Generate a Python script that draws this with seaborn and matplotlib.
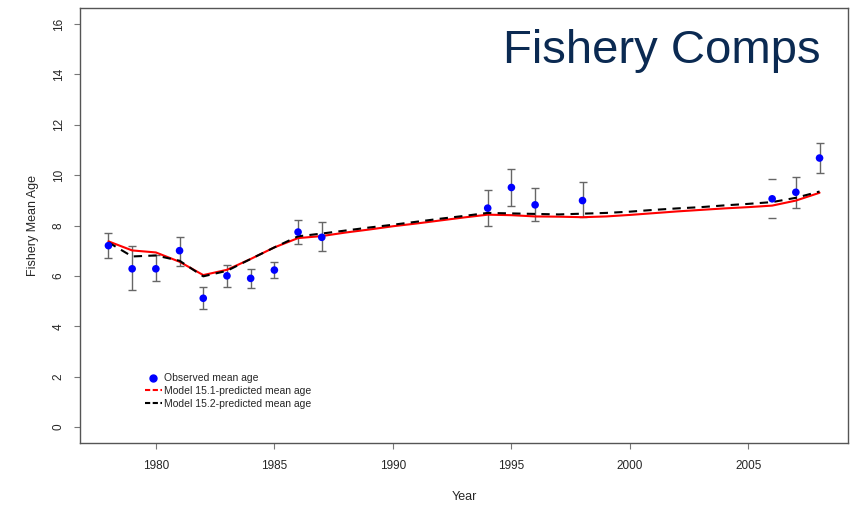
import numpy as np
import pandas as pd
import matplotlib
matplotlib.use("Agg")
import matplotlib.pyplot as plt
import seaborn as sns
from matplotlib.lines import Line2D

# ---- data ----
obs_years = [1978, 1979, 1980, 1981, 1982, 1983, 1984, 1985, 1986, 1987,
             1994, 1995, 1996, 1998, 2006, 2007, 2008]
obs_mean = [7.20, 6.28, 6.28, 7.00, 5.11, 6.00, 5.90, 6.23, 7.74, 7.53,
            8.69, 9.51, 8.82, 8.99, 9.06, 9.32, 10.68]
obs_low = [6.71, 5.42, 5.78, 6.40, 4.68, 5.55, 5.50, 5.91, 7.27, 6.97,
           7.97, 8.76, 8.18, 8.33, 8.30, 8.71, 10.09]
obs_high = [7.70, 7.17, 6.81, 7.56, 5.55, 6.42, 6.28, 6.56, 8.22, 8.14,
            9.40, 10.24, 9.47, 9.74, 9.86, 9.92, 11.26]

model_years = list(range(1978, 2009))
model_151 = [7.37, 7.01, 6.93, 6.56, 6.03, 6.24, 6.67, 7.13, 7.50, 7.58,
             7.72, 7.84, 7.97, 8.08, 8.20, 8.32, 8.43, 8.41, 8.36, 8.35,
             8.33, 8.36, 8.42, 8.49, 8.56, 8.62, 8.68, 8.73, 8.79, 8.99, 9.30]
model_152 = [7.33, 6.77, 6.81, 6.60, 5.98, 6.20, 6.67, 7.13, 7.57, 7.68,
             7.80, 7.92, 8.03, 8.15, 8.27, 8.38, 8.50, 8.48, 8.46, 8.44,
             8.47, 8.50, 8.55, 8.62, 8.68, 8.73, 8.80, 8.86, 8.93, 9.10, 9.35]

x_ticks = [1980, 1985, 1990, 1995, 2000, 2005]
y_ticks = [0, 2, 4, 6, 8, 10, 12, 14, 16]

title_text = "Fishery Comps"
x_label = "Year"
y_label = "Fishery Mean Age"
legend_labels = ["Observed mean age", "Model 15.1-predicted mean age",
                 "Model 15.2-predicted mean age"]

# ---- plot ----
sns.set_style("white")
plt.rcParams["font.family"] = ["Liberation Sans", "DejaVu Sans"]

fig = plt.figure(figsize=(8.57, 5.07), dpi=100)
W, H = 857, 507
ax = fig.add_axes([80 / W, (H - 443) / H, (848 - 80) / W, (443 - 8) / H])

models = pd.DataFrame({"Year": model_years, "m151": model_151, "m152": model_152})
obs = pd.DataFrame({"Year": obs_years, "mean": obs_mean,
                    "low": obs_low, "high": obs_high})

# error bars
yerr = np.array([obs["mean"] - obs["low"], obs["high"] - obs["mean"]])
eb = ax.errorbar(obs["Year"], obs["mean"], yerr=yerr, fmt="none",
                 ecolor="#666666", elinewidth=1.0, capsize=3.2, capthick=1.0,
                 zorder=2)
# the 2006 bar shows only its caps in the reference
stem_colors = ["#666666"] * len(obs_years)
stem_colors[obs_years.index(2006)] = (1, 1, 1, 0)
eb[2][0].set_color(stem_colors)

sns.lineplot(data=models, x="Year", y="m151", ax=ax, color="red",
             linewidth=1.5, zorder=3, legend=False)
sns.lineplot(data=models, x="Year", y="m152", ax=ax, color="black",
             linewidth=1.5, linestyle=(0, (4, 3)), zorder=4, legend=False)
sns.scatterplot(data=obs, x="Year", y="mean", ax=ax, color="blue",
                s=30, edgecolor="none", zorder=5, legend=False)

ax.set_xlim(1976.8, 2009.2)
ax.set_ylim(-0.64, 16.64)
ax.set_xticks(x_ticks)
ax.set_yticks(y_ticks)
ax.set_xticklabels([str(t) for t in x_ticks], fontsize=8.5)
ax.set_yticklabels([str(t) for t in y_ticks], fontsize=8.5, rotation=90, va="center")
ax.tick_params(axis="both", direction="out", length=4, width=0.8,
               color="#777777", bottom=True, left=True)
ax.tick_params(axis="x", pad=8)
ax.tick_params(axis="y", pad=7)
ax.set_xlabel(x_label, fontsize=9, labelpad=14)
ax.set_ylabel(y_label, fontsize=9, labelpad=10)
for sp in ax.spines.values():
    sp.set_color("#555555")
    sp.set_linewidth(1.0)

ax.text(0.965, 0.902, title_text, transform=ax.transAxes, ha="right",
        va="center", fontsize=34, color="#0B2A52")

handles = [
    Line2D([], [], marker="o", linestyle="none", color="blue", markersize=5),
    Line2D([], [], color="red", linestyle=(0, (2.5, 1.2)), linewidth=1.5),
    Line2D([], [], color="black", linestyle=(0, (2.5, 1.2)), linewidth=1.5),
]
ax.legend(handles, legend_labels, loc="upper left",
          bbox_to_anchor=(0.075, 0.177), frameon=False, fontsize=7.5,
          handlelength=1.6, handletextpad=0.2, labelspacing=0.25,
          borderpad=0.2)

fig.savefig("out.png", dpi=100)
